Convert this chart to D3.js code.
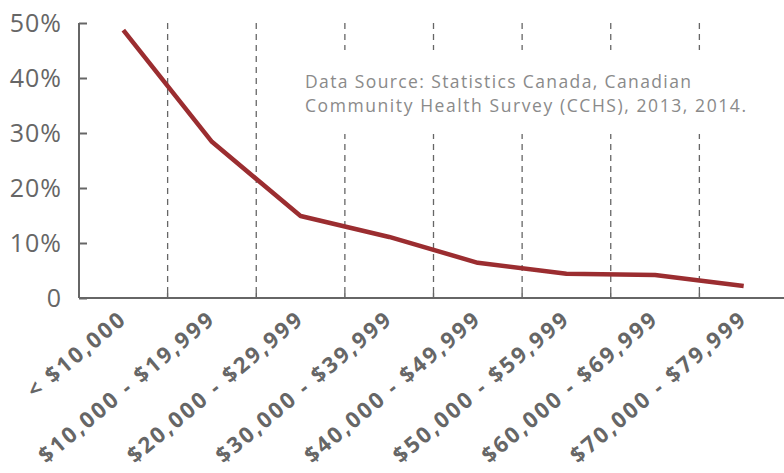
<!DOCTYPE html>
<html><head><meta charset="utf-8">
<script src="https://cdn.jsdelivr.net/npm/d3@7"></script>
<style>body{margin:0;background:#fff}svg{display:block}</style>
</head><body>
<svg id="c" width="784" height="473"></svg>
<script>
const categories = ["< $10,000","$10,000 - $19,999","$20,000 - $29,999","$30,000 - $39,999","$40,000 - $49,999","$50,000 - $59,999","$60,000 - $69,999","$70,000 - $79,999"];
const values = [48.7, 28.4, 14.9, 11.1, 6.4, 4.4, 4.2, 2.2];
const yTicks = [0, 10, 20, 30, 40, 50];
const yTickLabels = ["0","10%","20%","30%","40%","50%"];
const sourceLines = ["Data Source: Statistics Canada, Canadian","Community Health Survey (CCHS), 2013, 2014."];

(function(){
const W = 784, H = 473;
const mLeft = 79, mTop = 23, mBottom = 298;
const svg = d3.select("#c");
const x = d3.scaleBand().domain(categories).range([mLeft, 788]).padding(0);
const y = d3.scaleLinear().domain([0, 50]).range([mBottom, mTop]);
const grey = "#666";
const font = "'Open Sans', sans-serif";

const bounds = categories.slice(1).map(c => x(c));
svg.append("g").selectAll("line").data(bounds).join("line")
  .attr("x1", d => d).attr("x2", d => d)
  .attr("y1", mTop).attr("y2", mBottom)
  .attr("stroke", "#666").attr("stroke-width", 1.3)
  .attr("stroke-dasharray", "6,5");

svg.append("rect").attr("x", 298).attr("y", 50).attr("width", 470).attr("height", 84).attr("fill", "#fff");
const src = svg.append("g").selectAll("text").data(sourceLines).join("text")
  .attr("x", 305).attr("y", (d, i) => 88 + i * 23.5)
  .attr("font-family", font).attr("font-size", 17.5)
  .attr("fill", "#8a8a8a").text(d => d);
src.filter((d, i) => i === 0).attr("textLength", 386).attr("lengthAdjust", "spacing");
src.filter((d, i) => i === 1).attr("textLength", 441).attr("lengthAdjust", "spacing");

const yAxis = d3.axisLeft(y).tickValues(yTicks).tickFormat((d, i) => yTickLabels[i]).tickSize(-8).tickPadding(17);
const gy = svg.append("g").attr("transform", `translate(${mLeft},0)`).call(yAxis);
gy.select(".domain").attr("stroke", grey).attr("stroke-width", 2).attr("d", `M0,${mTop}V${mBottom}`);
gy.selectAll(".tick line").attr("stroke", grey).attr("stroke-width", 2);
gy.selectAll(".tick text").attr("font-family", font).attr("font-size", 25).attr("fill", grey)
  .attr("letter-spacing", 1).attr("dy", "0.34em");

const xAxis = d3.axisBottom(x).tickSize(0).tickPadding(0);
const gx = svg.append("g").attr("transform", `translate(0,${mBottom})`).call(xAxis);
gx.select(".domain").attr("stroke", grey).attr("stroke-width", 2).attr("d", `M${mLeft},0H${W}`);
gx.selectAll(".tick text")
  .attr("font-family", font).attr("font-size", 22).attr("font-weight", "bold").attr("fill", grey)
  .attr("letter-spacing", 2.4)
  .attr("text-anchor", "end").attr("dy", null)
  .attr("transform", "translate(5,23) rotate(-40)");
svg.append("g").selectAll("line").data(bounds).join("line")
  .attr("x1", d => d).attr("x2", d => d).attr("y1", mBottom - 5).attr("y2", mBottom)
  .attr("stroke", grey).attr("stroke-width", 1.5);

const line = d3.line().x((d, i) => x(categories[i]) + x.bandwidth() / 2).y(d => y(d));
svg.append("path").datum(values).attr("d", line)
  .attr("fill", "none").attr("stroke", "#9b2d30").attr("stroke-width", 4.5).attr("stroke-linejoin", "round");
})();
</script>
</body></html>
